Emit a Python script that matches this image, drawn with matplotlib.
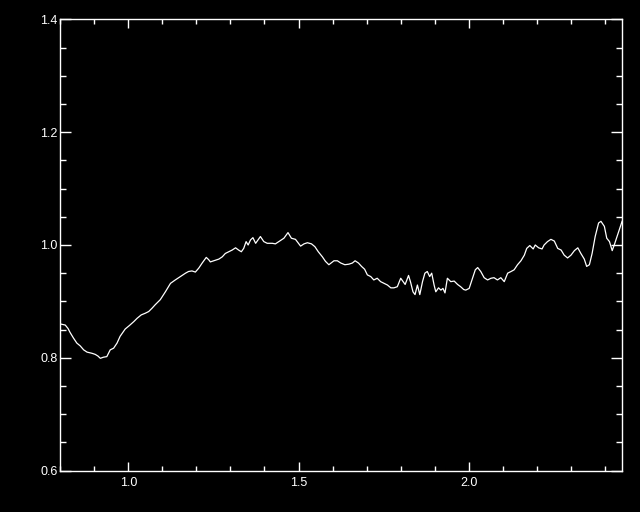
import numpy as np
import matplotlib
matplotlib.use("Agg")
import matplotlib.pyplot as plt
from matplotlib.ticker import MultipleLocator, FormatStrFormatter

# Dados (comprimento de onda, razão)
wavelength = [
    0.800, 0.815, 0.823, 0.829, 0.839, 0.849, 0.859, 0.869, 0.879, 0.893,
    0.903, 0.911, 0.918, 0.927, 0.937, 0.947, 0.957, 0.967, 0.976, 0.991,
    1.003, 1.016, 1.026, 1.038, 1.050, 1.060, 1.070, 1.079, 1.094, 1.109,
    1.124, 1.138, 1.153, 1.168, 1.177, 1.187, 1.197, 1.207, 1.217, 1.229,
    1.236, 1.241, 1.251, 1.266, 1.276, 1.285, 1.295, 1.305, 1.315, 1.324,
    1.332, 1.339, 1.346, 1.352, 1.359, 1.366, 1.374, 1.381, 1.388, 1.398,
    1.408, 1.423, 1.432, 1.442, 1.457, 1.469, 1.479, 1.491, 1.506, 1.516,
    1.526, 1.538, 1.548, 1.558, 1.570, 1.579, 1.589, 1.604, 1.614, 1.624,
    1.636, 1.648, 1.658, 1.666, 1.676, 1.685, 1.694, 1.702, 1.712, 1.721,
    1.731, 1.741, 1.751, 1.761, 1.771, 1.780, 1.790, 1.800, 1.807, 1.813,
    1.823, 1.829, 1.836, 1.842, 1.849, 1.856, 1.864, 1.871, 1.878, 1.885,
    1.891, 1.898, 1.903, 1.911, 1.918, 1.924, 1.930, 1.937, 1.947, 1.957,
    1.967, 1.976, 1.985, 1.991, 2.001, 2.011, 2.019, 2.026, 2.035, 2.045,
    2.055, 2.065, 2.074, 2.084, 2.094, 2.104, 2.114, 2.124, 2.133, 2.143,
    2.153, 2.163, 2.170, 2.179, 2.189, 2.195, 2.205, 2.215, 2.221, 2.231,
    2.241, 2.251, 2.261, 2.271, 2.280, 2.290, 2.300, 2.310, 2.320, 2.329,
    2.339, 2.346, 2.354, 2.362, 2.371, 2.381, 2.388, 2.398, 2.405, 2.413,
    2.421, 2.427, 2.437, 2.447, 2.450,
]
ratio = [
    0.860, 0.858, 0.852, 0.845, 0.835, 0.826, 0.821, 0.814, 0.810, 0.808,
    0.806, 0.803, 0.799, 0.801, 0.802, 0.814, 0.817, 0.826, 0.838, 0.851,
    0.857, 0.864, 0.870, 0.876, 0.879, 0.882, 0.888, 0.894, 0.903, 0.917,
    0.932, 0.938, 0.944, 0.950, 0.953, 0.954, 0.952, 0.959, 0.968, 0.978,
    0.974, 0.970, 0.972, 0.975, 0.979, 0.985, 0.988, 0.991, 0.995, 0.991,
    0.988, 0.994, 1.006, 1.000, 1.009, 1.013, 1.003, 1.009, 1.015, 1.006,
    1.003, 1.003, 1.002, 1.006, 1.012, 1.022, 1.012, 1.010, 0.998, 1.002,
    1.004, 1.002, 0.997, 0.988, 0.979, 0.971, 0.965, 0.972, 0.972, 0.968,
    0.965, 0.966, 0.968, 0.972, 0.968, 0.962, 0.957, 0.947, 0.944, 0.938,
    0.941, 0.935, 0.932, 0.929, 0.924, 0.924, 0.926, 0.941, 0.935, 0.930,
    0.946, 0.934, 0.917, 0.912, 0.929, 0.912, 0.935, 0.950, 0.953, 0.944,
    0.950, 0.929, 0.917, 0.924, 0.920, 0.923, 0.915, 0.941, 0.935, 0.936,
    0.930, 0.926, 0.921, 0.920, 0.923, 0.941, 0.956, 0.960, 0.953, 0.942,
    0.938, 0.941, 0.942, 0.938, 0.942, 0.935, 0.950, 0.953, 0.956, 0.965,
    0.972, 0.982, 0.994, 0.999, 0.993, 1.000, 0.995, 0.993, 1.000, 1.006,
    1.010, 1.007, 0.994, 0.991, 0.982, 0.977, 0.982, 0.990, 0.995, 0.985,
    0.975, 0.962, 0.965, 0.985, 1.015, 1.039, 1.042, 1.033, 1.012, 1.006,
    0.990, 1.000, 1.018, 1.036, 1.042,
]

fig = plt.figure(figsize=(6.4, 5.12), dpi=100, facecolor="black")
ax = fig.add_axes([0.094, 0.081, 0.878, 0.881], facecolor="black")

ax.plot(wavelength, ratio, color="white", linewidth=0.9)

ax.set_xlim(0.8, 2.45)
ax.set_ylim(0.6, 1.4)

ax.xaxis.set_major_locator(MultipleLocator(0.5))
ax.xaxis.set_minor_locator(MultipleLocator(0.1))
ax.yaxis.set_major_locator(MultipleLocator(0.2))
ax.yaxis.set_minor_locator(MultipleLocator(0.05))
ax.xaxis.set_major_formatter(FormatStrFormatter("%.1f"))
ax.yaxis.set_major_formatter(FormatStrFormatter("%.1f"))

for s in ax.spines.values():
    s.set_color("white")
    s.set_linewidth(1.0)

ax.tick_params(axis="both", which="both", direction="in", colors="white",
               top=True, right=True, width=1.0, labelsize=9)
ax.tick_params(axis="x", which="major", length=6.5, pad=5)
ax.tick_params(axis="x", which="minor", length=3.4)
ax.tick_params(axis="y", which="major", length=8.1, pad=2)
ax.tick_params(axis="y", which="minor", length=4.3)

for lbl in ax.get_xticklabels() + ax.get_yticklabels():
    lbl.set_fontfamily("Liberation Sans")

fig.savefig("out.png", dpi=100, facecolor="black")
